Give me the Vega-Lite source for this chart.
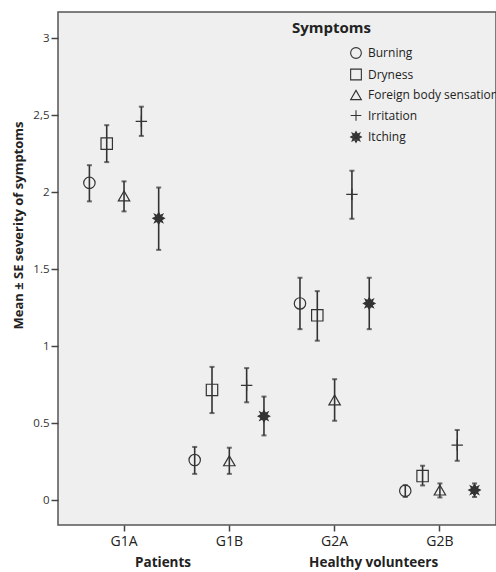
{
  "$schema": "https://vega.github.io/schema/vega-lite/v6.json",
  "autosize": {"type": "none"},
  "padding": {"left": 58, "top": 12, "right": 0, "bottom": 47},
  "width": 438,
  "height": 513,
  "background": "white",
  "config": {
    "font": "Open Sans",
    "view": {"fill": "#efefef", "stroke": "#555", "strokeWidth": 1.5}
  },
  "data": {
    "values": [
      {"group": "G1A", "symptom": "Burning", "mean": 2.06, "lower": 1.94, "upper": 2.175},
      {"group": "G1A", "symptom": "Dryness", "mean": 2.315, "lower": 2.195, "upper": 2.435},
      {"group": "G1A", "symptom": "Foreign body sensation", "mean": 1.975, "lower": 1.875, "upper": 2.07},
      {"group": "G1A", "symptom": "Irritation", "mean": 2.46, "lower": 2.365, "upper": 2.555},
      {"group": "G1A", "symptom": "Itching", "mean": 1.83, "lower": 1.625, "upper": 2.03},
      {"group": "G1B", "symptom": "Burning", "mean": 0.26, "lower": 0.17, "upper": 0.345},
      {"group": "G1B", "symptom": "Dryness", "mean": 0.715, "lower": 0.565, "upper": 0.865},
      {"group": "G1B", "symptom": "Foreign body sensation", "mean": 0.255, "lower": 0.17, "upper": 0.34},
      {"group": "G1B", "symptom": "Irritation", "mean": 0.745, "lower": 0.635, "upper": 0.857},
      {"group": "G1B", "symptom": "Itching", "mean": 0.545, "lower": 0.42, "upper": 0.672},
      {"group": "G2A", "symptom": "Burning", "mean": 1.277, "lower": 1.11, "upper": 1.444},
      {"group": "G2A", "symptom": "Dryness", "mean": 1.2, "lower": 1.035, "upper": 1.357},
      {"group": "G2A", "symptom": "Foreign body sensation", "mean": 0.65, "lower": 0.515, "upper": 0.785},
      {"group": "G2A", "symptom": "Irritation", "mean": 1.985, "lower": 1.827, "upper": 2.139},
      {"group": "G2A", "symptom": "Itching", "mean": 1.277, "lower": 1.11, "upper": 1.444},
      {"group": "G2B", "symptom": "Burning", "mean": 0.06, "lower": 0.02, "upper": 0.097},
      {"group": "G2B", "symptom": "Dryness", "mean": 0.156, "lower": 0.095, "upper": 0.223},
      {"group": "G2B", "symptom": "Foreign body sensation", "mean": 0.065, "lower": 0.017, "upper": 0.108},
      {"group": "G2B", "symptom": "Irritation", "mean": 0.357, "lower": 0.255, "upper": 0.455},
      {"group": "G2B", "symptom": "Itching", "mean": 0.065, "lower": 0.02, "upper": 0.108}
    ]
  },
  "encoding": {
    "x": {
      "field": "group",
      "type": "nominal",
      "scale": {"paddingInner": 0, "paddingOuter": 0.08, "align": 0.795},
      "axis": {
        "title": null,
        "domain": false,
        "tickSize": 6,
        "tickColor": "#444",
        "tickWidth": 1.5,
        "labelAngle": 0,
        "labelFontSize": 14,
        "labelPadding": 3,
        "labelColor": "#222"
      }
    },
    "xOffset": {
      "field": "symptom",
      "type": "nominal",
      "sort": ["Burning", "Dryness", "Foreign body sensation", "Irritation", "Itching"],
      "scale": {"paddingInner": 0, "paddingOuter": 0.54}
    }
  },
  "layer": [
    {
      "mark": {"type": "rule", "color": "#333", "strokeWidth": 1.6},
      "encoding": {
        "y": {
          "field": "lower",
          "type": "quantitative",
          "scale": {"domain": [-0.162, 3.17], "nice": false, "zero": false},
          "axis": {
            "title": "Mean ± SE severity of symptoms",
            "values": [0, 0.5, 1, 1.5, 2, 2.5, 3],
            "format": "~g",
            "labelExpr": "datum.value == 2.5 ? '2,5' : datum.label",
            "grid": false,
            "domain": false,
            "tickSize": 7,
            "tickColor": "#444",
            "tickWidth": 1.5,
            "labelFontSize": 11.5,
            "labelColor": "#333",
            "labelPadding": 2,
            "titleFontSize": 13,
            "titleFontWeight": "bold",
            "titleColor": "#222",
            "titlePadding": 7,
            "titleY": 213
          }
        },
        "y2": {"field": "upper"}
      }
    },
    {
      "mark": {"type": "tick", "color": "#333", "size": 5, "thickness": 2},
      "encoding": {"y": {"field": "upper", "type": "quantitative"}}
    },
    {
      "mark": {"type": "tick", "color": "#333", "size": 5, "thickness": 2},
      "encoding": {"y": {"field": "lower", "type": "quantitative"}}
    },
    {
      "mark": {"type": "point", "stroke": "#333", "strokeWidth": 1.2, "size": 130, "opacity": 1},
      "encoding": {
        "y": {"field": "mean", "type": "quantitative"},
        "shape": {
          "field": "symptom",
          "type": "nominal",
          "sort": ["Burning", "Dryness", "Foreign body sensation", "Irritation", "Itching"],
          "scale": {"range": ["circle", "square", "triangle-up", "M-1,0H1M0,-1V1", "M0,-1L0.28,-0.5L0.71,-0.71L0.5,-0.28L1,0L0.5,0.28L0.71,0.71L0.28,0.5L0,1L-0.28,0.5L-0.71,0.71L-0.5,0.28L-1,0L-0.5,-0.28L-0.71,-0.71L-0.28,-0.5ZM0,-0.55L0.15,-0.28L0.39,-0.39L0.28,-0.15L0.55,0L0.28,0.15L0.39,0.39L0.15,0.28L0,0.55L-0.15,0.28L-0.39,0.39L-0.28,0.15L-0.55,0L-0.28,-0.15L-0.39,-0.39L-0.15,-0.28ZM-0.25,-0.25H0.25V0.25H-0.25ZM-0.7,0H0.7M0,-0.7V0.7M-0.5,-0.5L0.5,0.5M-0.5,0.5L0.5,-0.5"]},
          "legend": {
            "title": "Symptoms",
            "orient": "none",
            "legendX": 234,
            "legendY": 9,
            "padding": 0,
            "titleFontSize": 15,
            "titleFontWeight": "bold",
            "titleColor": "#222",
            "titlePadding": 11,
            "labelFontSize": 12,
            "labelColor": "#222",
            "labelLimit": 300,
            "labelOffset": 6,
            "symbolOffset": 58,
            "symbolSize": 115,
            "symbolFillColor": "transparent",
            "symbolStrokeColor": "#333",
            "symbolStrokeWidth": 1.1,
            "rowPadding": 5.5
          }
        },
        "fill": {
          "field": "symptom",
          "type": "nominal",
          "sort": ["Burning", "Dryness", "Foreign body sensation", "Irritation", "Itching"],
          "scale": {"range": ["transparent", "transparent", "transparent", "transparent", "#333"]},
          "legend": null
        }
      }
    },
    {
      "data": {
        "values": [
          {"group": "G1A", "label": "Patients"},
          {"group": "G2A", "label": "Healthy volunteers"}
        ]
      },
      "mark": {"type": "text", "fontSize": 13.5, "fontWeight": "bold", "color": "#222", "dx": 39, "baseline": "middle"},
      "encoding": {
        "xOffset": null,
        "y": {"datum": -0.41, "type": "quantitative"},
        "text": {"field": "label"}
      }
    }
  ]
}
